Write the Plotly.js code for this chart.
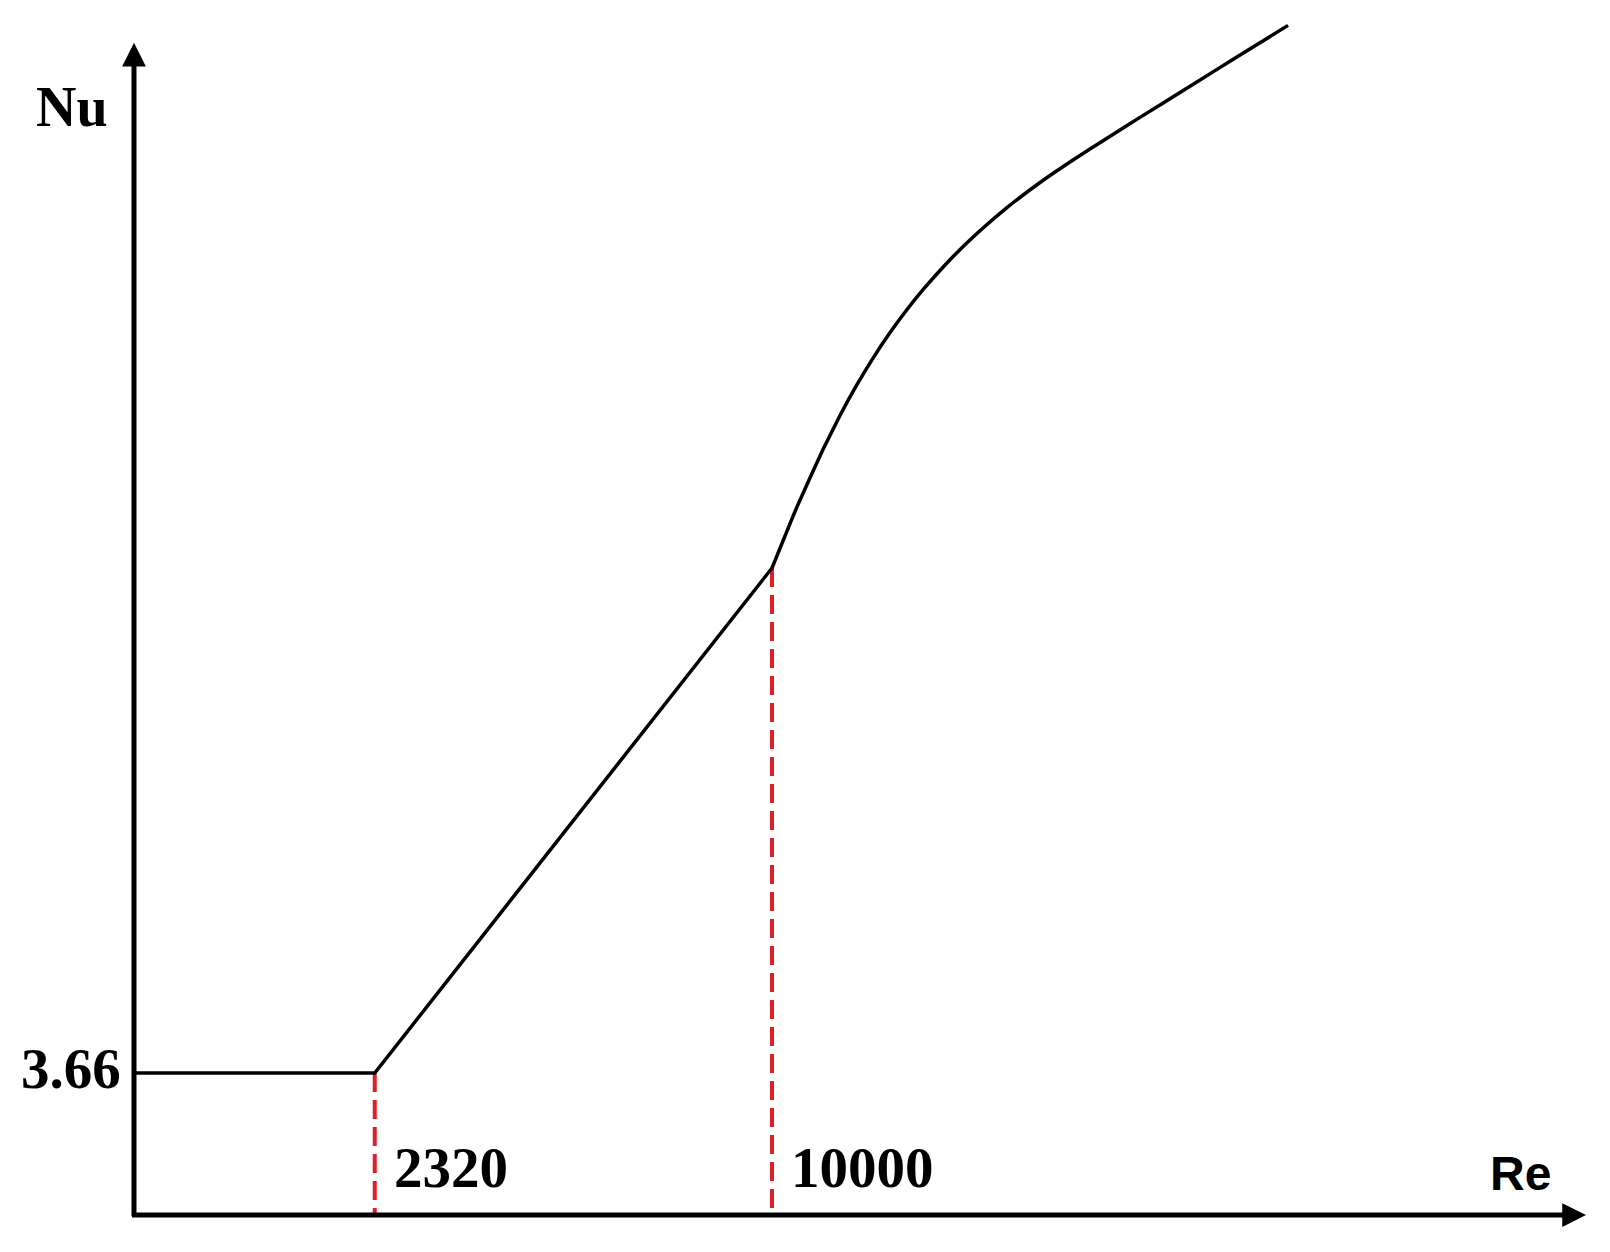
<!DOCTYPE html>
<html>
<head>
<meta charset="utf-8">
<script src="https://cdn.plot.ly/plotly-3.0.1.min.js"></script>
<style>
  html, body { margin: 0; padding: 0; background: #fff; }
  #fig { width: 1610px; height: 1252px; }
</style>
</head>
<body>
<div id="fig"></div>
<script>
// Schematic Nu vs Re curve, both axes in relative units (0..100 of the axis length)
const reLamTrans = [0, 16.58, 43.94];      // laminar plateau, then transition
const nuLamTrans = [11.88, 11.88, 54.14];

// turbulent branch
const reTurb = [43.94, 45.66, 47.45, 48.62, 49.79, 50.90, 52.07, 53.24, 54.34, 56.40,
                58.26, 60.12, 62.40, 64.67, 67.01, 69.28, 72.04, 74.31, 76.65, 79.48];
const nuTurb = [54.14, 59.26, 64.05, 66.90, 69.48, 71.71, 73.84, 75.77, 77.43, 80.19,
                82.36, 84.30, 86.40, 88.28, 90.11, 91.85, 93.94, 95.66, 97.42, 99.55];

const reMarks = [16.58, 43.94];           // where the red dashed markers sit
const nuMarks = [11.88, 54.14];
const reMarkLabels = ["2320", "10000"];

const nuLevel = 11.88;
const nuLevelLabel = "3.66";

const serif = "Liberation Serif, Times New Roman, serif";
const sans = "Liberation Sans, Arial, sans-serif";
const red = "rgb(222,32,38)";

let traces = [];

// dashed red verticals (drawn first, curve on top)
reMarks.forEach((r, i) => {
  traces.push({x: [r, r], y: [nuMarks[i], 0], mode: "lines",
               line: {color: red, width: 4, dash: "19px,8px"},
               hoverinfo: "skip", showlegend: false});
});

traces.push({x: reLamTrans, y: nuLamTrans, mode: "lines",
             line: {color: "#000", width: 3.5},
             hoverinfo: "skip", showlegend: false});

traces.push({x: reTurb, y: nuTurb, mode: "lines",
             line: {color: "#000", width: 3.5, shape: "spline", smoothing: 0.4},
             hoverinfo: "skip", showlegend: false});

let annotations = [];

// axis arrows
annotations.push({x: 100, y: 0, ax: -0.25, ay: 0, xref: "x", yref: "y",
                  axref: "x", ayref: "y", text: "", showarrow: true,
                  arrowhead: 2, arrowsize: 0.95, arrowwidth: 5, arrowcolor: "#000"});
annotations.push({x: 0, y: 98.1, ax: 0, ay: -0.2, xref: "x", yref: "y",
                  axref: "x", ayref: "y", text: "", showarrow: true,
                  arrowhead: 2, arrowsize: 0.95, arrowwidth: 5, arrowcolor: "#000"});

// Re value labels, right of the dashed lines
reMarks.forEach((r, i) => {
  annotations.push({x: r / 100, y: 0.04, xref: "paper", yref: "paper",
                    xanchor: "left", yanchor: "middle", xshift: 17,
                    text: reMarkLabels[i], showarrow: false,
                    font: {family: serif, size: 57, weight: "bold", color: "#000"}});
});

// Nu level label on the vertical axis
annotations.push({x: 0, y: nuLevel / 100, xref: "paper", yref: "paper",
                  xanchor: "right", yanchor: "middle", xshift: -11, yshift: 5,
                  text: nuLevelLabel, showarrow: false,
                  font: {family: serif, size: 57, weight: "bold", color: "#000"}});

annotations.push({x: -0.0424, y: 0.9268, xref: "paper", yref: "paper",
                  xanchor: "center", yanchor: "middle", text: "Nu", showarrow: false,
                  font: {family: serif, size: 56, weight: "bold", color: "#000"}});

annotations.push({x: 0.9552, y: 0.0347, xref: "paper", yref: "paper",
                  xanchor: "center", yanchor: "middle", text: "Re", showarrow: false,
                  font: {family: sans, size: 48, weight: "bold", color: "#000"}});

const layout = {
  width: 1610, height: 1252,
  margin: {l: 134, r: 24, t: 20, b: 37},
  paper_bgcolor: "#fff", plot_bgcolor: "#fff",
  showlegend: false,
  xaxis: {range: [0, 100], showgrid: false, zeroline: false, showline: false,
          showticklabels: false, ticks: "", fixedrange: true},
  yaxis: {range: [0, 100], showgrid: false, zeroline: false, showline: false,
          showticklabels: false, ticks: "", fixedrange: true},
  annotations: annotations
};

Plotly.newPlot("fig", traces, layout, {staticPlot: true, displayModeBar: false});
</script>
</body>
</html>
